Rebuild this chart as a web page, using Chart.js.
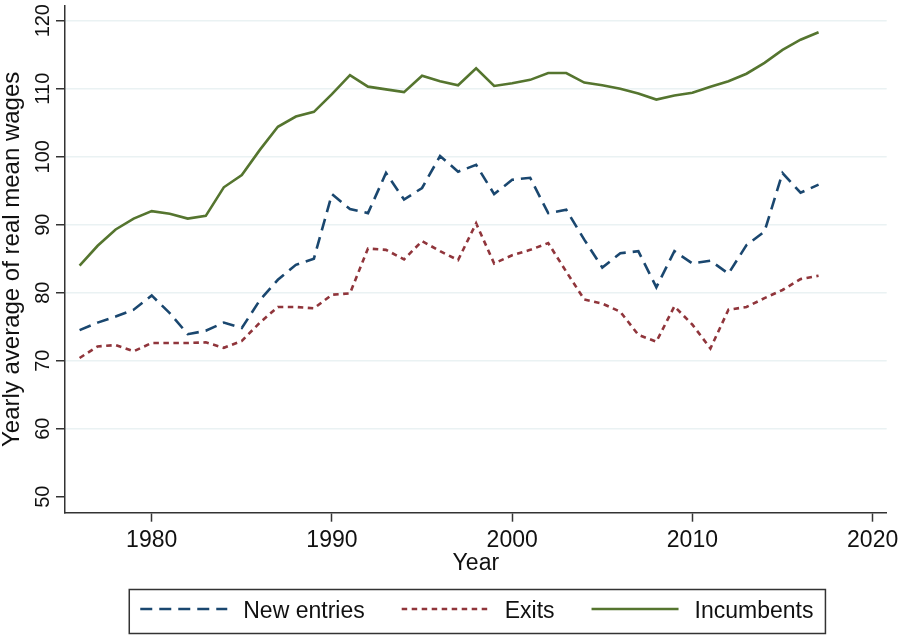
<!DOCTYPE html>
<html>
<head>
<meta charset="utf-8">
<script src="https://cdn.jsdelivr.net/npm/chart.js@4.4.1/dist/chart.umd.min.js"></script>
<style>
  html, body { margin: 0; padding: 0; background: #fff; }
  canvas { display: block; }
</style>
</head>
<body>
<canvas id="chart" width="902" height="637"></canvas>
<script>
// data
const years = [1976, 1977, 1978, 1979, 1980, 1981, 1982, 1983, 1984, 1985, 1986, 1987, 1988, 1989,
  1990, 1991, 1992, 1993, 1994, 1995, 1996, 1997, 1998, 1999, 2000, 2001, 2002, 2003,
  2004, 2005, 2006, 2007, 2008, 2009, 2010, 2011, 2012, 2013, 2014, 2015, 2016, 2017];

const newEntries = [74.5, 75.6, 76.5, 77.5, 79.6, 77.0, 73.9, 74.4, 75.6, 74.8, 78.9, 81.9, 84.1, 85.0,
  94.5, 92.3, 91.7, 97.6, 93.7, 95.4, 100.1, 97.8, 98.8, 94.5, 96.6, 96.9, 91.7, 92.2,
  87.8, 83.7, 85.8, 86.1, 80.8, 86.1, 84.3, 84.7, 82.8, 87.0, 89.0, 97.6, 94.7, 95.9];

const exits = [70.4, 72.1, 72.3, 71.4, 72.6, 72.6, 72.6, 72.7, 71.9, 72.9, 75.6, 77.9, 77.9, 77.7,
  79.7, 79.9, 86.5, 86.3, 84.9, 87.6, 86.1, 84.8, 90.2, 84.3, 85.5, 86.3, 87.3, 83.1,
  79.0, 78.4, 77.2, 73.8, 72.8, 78.0, 75.3, 71.8, 77.5, 77.9, 79.2, 80.4, 82.0, 82.5];

const incumbents = [84.0, 86.9, 89.3, 90.9, 92.0, 91.6, 90.9, 91.3, 95.5, 97.3, 101.0, 104.4, 105.9, 106.6,
  109.2, 112.0, 110.3, 109.9, 109.5, 111.9, 111.1, 110.5, 113.0, 110.4, 110.8, 111.3, 112.3, 112.3,
  110.9, 110.5, 110.0, 109.3, 108.4, 109.0, 109.4, 110.3, 111.1, 112.2, 113.8, 115.7, 117.2, 118.3];

const xTicks = [1980, 1990, 2000, 2010, 2020];
const yTicks = [50, 60, 70, 80, 90, 100, 110, 120];

const FONT = '"Liberation Sans", Arial, sans-serif';
const INK = '#111';
const AXIS = '#333';

function points(vals) {
  return years.map((y, i) => ({ x: y, y: vals[i] }));
}

// y tick labels, rotated like the original (read bottom to top)
const yLabels = {
  id: 'yLabels',
  afterDraw(chart) {
    const s = chart.scales.y;
    const ctx = chart.ctx;
    ctx.save();
    ctx.font = '20px ' + FONT;
    ctx.fillStyle = INK;
    ctx.textAlign = 'center';
    ctx.textBaseline = 'middle';
    s.ticks.forEach(t => {
      const py = s.getPixelForValue(t.value);
      ctx.save();
      ctx.translate(s.right - 22, py);
      ctx.rotate(-Math.PI / 2);
      ctx.fillText(String(t.value), 0, 0);
      ctx.restore();
    });
    ctx.restore();
  }
};

// boxed legend under the axis title
const legendBox = {
  id: 'legendBox',
  afterDraw(chart) {
    const ctx = chart.ctx;
    const area = chart.chartArea;
    const sample = 87, gapText = 16, gapItem = 37;
    ctx.save();
    ctx.font = '23px ' + FONT;
    const items = chart.data.datasets.map(ds => ({ ds: ds, w: ctx.measureText(ds.label).width }));
    let total = gapItem * (items.length - 1);
    items.forEach(it => { total += sample + gapText + it.w; });
    const cx = (area.left + area.right) / 2 + 1;
    let x = cx - total / 2;

    ctx.strokeStyle = AXIS;
    ctx.lineWidth = 1.5;
    ctx.setLineDash([]);
    ctx.strokeRect(x - 11, 589.5, total + 23, 44);

    items.forEach(it => {
      ctx.beginPath();
      ctx.setLineDash(it.ds.borderDash || []);
      ctx.strokeStyle = it.ds.borderColor;
      ctx.lineWidth = it.ds.borderWidth;
      ctx.moveTo(x, 609);
      ctx.lineTo(x + sample, 609);
      ctx.stroke();
      x += sample + gapText;
      ctx.setLineDash([]);
      ctx.fillStyle = INK;
      ctx.textAlign = 'left';
      ctx.textBaseline = 'middle';
      ctx.fillText(it.ds.label, x, 612);
      x += it.w + gapItem;
    });
    ctx.restore();
  }
};

const ctx = document.getElementById('chart').getContext('2d');
const chart = new Chart(ctx, {
  type: 'line',
  data: {
    datasets: [
      {
        label: 'New entries',
        data: points(newEntries),
        borderColor: '#1a476f',
        borderDash: [12, 7],
        borderWidth: 2.6,
        pointRadius: 0,
        fill: false,
        tension: 0
      },
      {
        label: 'Exits',
        data: points(exits),
        borderColor: '#90353b',
        borderDash: [5.5, 4.5],
        borderWidth: 2.6,
        pointRadius: 0,
        fill: false,
        tension: 0
      },
      {
        label: 'Incumbents',
        data: points(incumbents),
        borderColor: '#55752f',
        borderWidth: 2.6,
        pointRadius: 0,
        fill: false,
        tension: 0
      }
    ]
  },
  options: {
    responsive: false,
    animation: false,
    layout: { padding: { top: 6, right: 15.3, left: 0, bottom: 0 } },
    plugins: {
      legend: { display: false },
      tooltip: { enabled: false }
    },
    scales: {
      x: {
        type: 'linear',
        min: 1975.19,
        max: 2020.78,
        afterBuildTicks: s => { s.ticks = xTicks.map(v => ({ value: v })); },
        afterFit: s => { s.height = 124.3; s.paddingLeft = 0; s.paddingRight = 0; },
        grid: { drawOnChartArea: false, drawTicks: true, tickLength: 9, tickColor: AXIS, tickWidth: 1.5 },
        border: { color: AXIS, width: 1.5 },
        ticks: {
          font: { size: 23, family: FONT },
          color: INK,
          padding: 5.5,
          maxRotation: 0,
          autoSkip: false,
          callback: v => String(v)
        },
        title: {
          display: true,
          text: 'Year',
          font: { size: 23, family: FONT },
          color: INK,
          padding: { top: 0, bottom: 59.2 }
        }
      },
      y: {
        min: 47.65,
        max: 122.16,
        afterBuildTicks: s => { s.ticks = yTicks.map(v => ({ value: v })); },
        afterFit: s => { s.width = 65; s.paddingTop = 0; s.paddingBottom = 0; },
        grid: {
          color: c => (c.tick && c.tick.value === 50) ? 'rgba(0,0,0,0)' : '#eaf2f3',
          lineWidth: 1.5,
          drawTicks: true,
          tickLength: 9,
          tickColor: AXIS,
          tickWidth: 1.5
        },
        border: { color: AXIS, width: 1.5 },
        ticks: { display: false },
        title: {
          display: true,
          text: 'Yearly average of real mean wages',
          font: { size: 24, family: FONT, lineHeight: 1 },
          color: INK,
          padding: 0
        }
      }
    }
  },
  plugins: [yLabels, legendBox]
});
</script>
</body>
</html>
